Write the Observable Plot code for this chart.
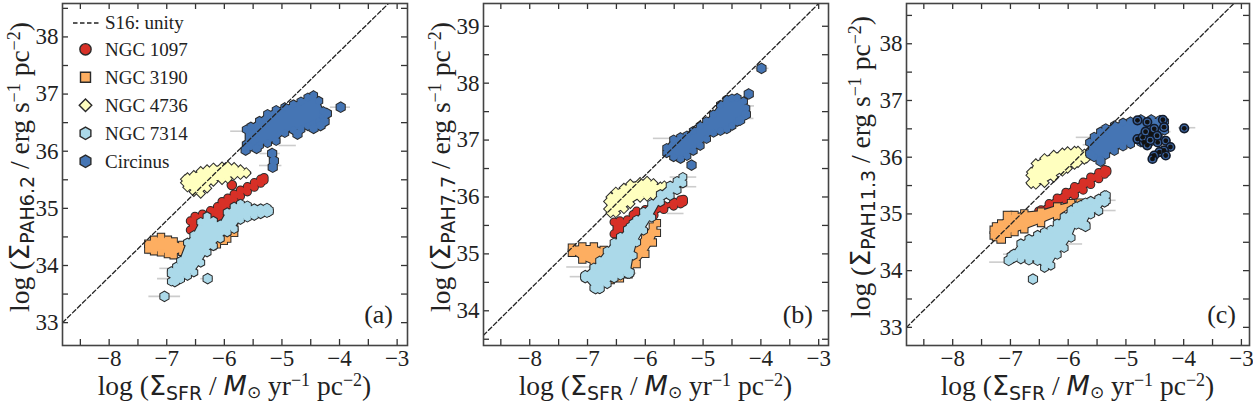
<!DOCTYPE html>
<html>
<head>
<meta charset="utf-8">
<script src="https://cdn.jsdelivr.net/npm/d3@7"></script>
<script src="https://cdn.jsdelivr.net/npm/@observablehq/plot@0.6"></script>
<style>
  body { margin: 0; background: #fff; }
  #wrap { position: relative; width: 1253px; height: 405px; overflow: hidden; }
  #wrap svg { position: absolute; top: 0; max-width: none; }
</style>
</head>
<body>
<div id="wrap"></div>
<script>
// ---------------- data ----------------
const galaxies = ["NGC 1097", "NGC 3190", "NGC 4736", "NGC 7314", "Circinus"];
const colors = ["#d73027", "#fdae61", "#ffffbf", "#abd9e9", "#4575b4"];

const xTicks = [-8, -7, -6, -5, -4, -3];
const xMinor = [-8.5, -8, -7.5, -7, -6.5, -6, -5.5, -5, -4.5, -4, -3.5, -3];
const yTicksA = [33, 34, 35, 36, 37, 38];
const yMinorA = [33, 33.5, 34, 34.5, 35, 35.5, 36, 36.5, 37, 37.5, 38, 38.5];
const yTicksB = [34, 35, 36, 37, 38, 39];
const yMinorB = [33.5, 34, 34.5, 35, 35.5, 36, 36.5, 37, 37.5, 38, 38.5, 39];
const yTicksC = [33, 34, 35, 36, 37, 38];
const yMinorC = [33, 33.5, 34, 34.5, 35, 35.5, 36, 36.5, 37, 37.5, 38, 38.5];

// S16 unity relation, endpoints read at the frame edges
const unityA = [[-8.81, 33.00], [-3.15, 38.585]];
const unityB = [[-8.80, 33.57], [-3.00, 39.40]];
const unityC = [[-8.80, 33.00], [-3.13, 38.71]];

// ---- panel (a): PAH 6.2 ----  bands: [x, low, high], points: [x, y], errors: [xlo, xhi, y]
const aErr = [[-7.34,-6.64,34.21],[-7.16,-6.58,33.77],[-7.31,-6.76,33.46],[-6.41,-6.19,33.77],[-5.89,-5.60,36.35],
  [-5.38,-5.03,35.96],[-4.16,-3.81,36.77],[-5.05,-4.75,36.10],[-5.54,-5.20,35.05],[-5.49,-5.15,34.90],
  [-7.12,-6.78,33.95],[-5.39,-5.00,35.75],[-4.55,-4.16,36.55]];
const a1097Band = [[-6.59,34.62,34.78],[-6.51,34.60,34.86],[-6.38,34.67,34.90],[-6.24,34.74,34.96],[-6.12,34.78,35.03],
  [-6.04,34.80,35.12],[-5.94,34.97,35.18],[-5.83,35.13,35.25],[-5.72,35.21,35.32],[-5.60,35.29,35.38],
  [-5.48,35.37,35.45],[-5.37,35.44,35.51],[-5.31,35.49,35.54]];
const a1097Pts = [[-5.87,35.41],[-6.53,34.62]];
const a3190Band = [[-7.32,34.28,34.38],[-7.22,34.25,34.45],[-7.10,34.23,34.50],[-6.98,34.20,34.45],[-6.88,34.18,34.42],
  [-6.73,34.24,34.36],[-6.53,34.26,34.39],[-6.33,34.29,34.43],[-6.21,34.34,34.45],[-6.13,34.37,34.46],
  [-6.01,34.43,34.56],[-5.95,34.47,34.60],[-5.83,34.57,34.67]];
const a3190Pts = [];
const a4736Band = [[-6.68,35.45,35.51],[-6.64,35.37,35.54],[-6.53,35.29,35.58],[-6.41,35.26,35.65],[-6.30,35.35,35.68],
  [-6.19,35.47,35.71],[-6.04,35.50,35.73],[-5.94,35.52,35.74],[-5.83,35.58,35.72],[-5.72,35.59,35.68],[-5.62,35.61,35.63]];
const a4736Pts = [];
const a7314Band = [[-6.92,33.72,33.90],[-6.83,33.74,33.98],[-6.76,33.76,34.08],[-6.64,33.82,34.40],[-6.53,33.88,34.53],
  [-6.41,34.05,34.76],[-6.30,34.23,34.86],[-6.19,34.34,34.78],[-6.07,34.47,34.72],[-5.95,34.58,34.93],
  [-5.83,34.64,35.03],[-5.72,34.80,35.08],[-5.60,34.84,35.05],[-5.48,34.87,35.00],[-5.37,34.90,35.00],
  [-5.26,34.92,35.01],[-5.22,34.94,34.97]];
const a7314Pts = [[-7.04,33.46],[-6.29,33.77],[-6.91,33.86],[-6.86,33.72]];
const aCirBand = [[-5.62,36.12,36.38],[-5.54,36.08,36.43],[-5.39,36.10,36.53],[-5.25,36.14,36.65],[-5.10,36.18,36.72],
  [-4.95,36.32,36.77],[-4.80,36.37,36.82],[-4.67,36.38,36.87],[-4.55,36.44,36.94],[-4.45,36.48,36.98],
  [-4.36,36.52,36.88],[-4.28,36.60,36.70]];
const aCirPts = [[-3.98,36.77],[-5.17,35.96],[-5.14,35.83],[-5.16,35.72],[-5.63,36.02],[-4.22,36.66],
  [-4.26,36.52],[-4.33,36.45],[-4.45,36.40],[-4.73,36.30],[-5.44,36.05]];

// ---- panel (b): PAH 7.7 ----
const bErr = [[-5.86,-5.51,37.03],[-5.68,-5.33,36.88],[-4.47,-4.12,37.38],[-4.12,-3.86,38.26],[-7.36,-6.89,34.77],
  [-7.30,-6.84,34.60],[-6.49,-6.15,34.66],[-5.57,-5.11,36.35],[-5.51,-5.11,36.18],[-5.62,-5.33,35.71],
  [-4.99,-4.53,37.17],[-4.41,-4.11,37.60]];
const b1097Band = [[-6.54,35.35,35.56],[-6.44,35.38,35.58],[-6.31,35.44,35.60],[-6.21,35.52,35.69],[-6.15,35.57,35.75],
  [-6.00,35.62,35.78],[-5.85,35.68,35.82],[-5.68,35.78,35.85],[-5.51,35.84,35.91],[-5.39,35.88,35.95],[-5.34,35.91,35.96]];
const b1097Pts = [];
const b3190Band = [[-7.27,35.02,35.11],[-7.09,34.90,35.13],[-6.89,34.82,35.13],[-6.72,34.67,35.07],[-6.60,34.54,34.98],
  [-6.44,34.57,34.93],[-6.29,34.64,34.98],[-6.15,34.82,35.13],[-6.00,35.00,35.33],[-5.87,35.20,35.48],[-5.80,35.37,35.54]];
const b3190Pts = [];
const b4736Band = [[-6.64,35.79,35.92],[-6.60,35.72,36.00],[-6.51,35.72,36.09],[-6.37,35.79,36.16],[-6.26,35.88,36.23],
  [-6.09,35.99,36.26],[-5.97,36.01,36.28],[-5.86,36.02,36.24],[-5.74,36.08,36.18],[-5.67,36.16,36.20]];
const b4736Pts = [];
const b7314Band = [[-7.04,34.57,34.63],[-6.89,34.40,34.76],[-6.79,34.38,34.88],[-6.66,34.47,35.05],[-6.54,34.57,35.20],
  [-6.43,34.62,35.30],[-6.31,34.65,35.43],[-6.26,34.68,35.48],[-6.21,34.97,35.54],[-6.15,35.20,35.60],
  [-6.03,35.41,35.74],[-5.89,35.64,35.88],[-5.74,35.91,36.05],[-5.57,36.02,36.20],[-5.45,36.12,36.28],[-5.35,36.24,36.35]];
const b7314Pts = [[-6.28,34.66],[-6.86,34.39],[-7.04,34.60],[-6.79,34.40]];
const bCirBand = [[-5.63,36.77,36.86],[-5.51,36.70,37.01],[-5.39,36.67,37.05],[-5.28,36.72,37.08],[-5.17,36.81,37.16],
  [-5.05,36.90,37.25],[-4.94,37.02,37.33],[-4.82,37.13,37.45],[-4.70,37.16,37.62],[-4.59,37.19,37.71],
  [-4.50,37.25,37.73],[-4.41,37.32,37.74],[-4.30,37.42,37.68],[-4.26,37.46,37.56]];
const bCirPts = [[-3.99,38.26],[-4.21,37.81],[-5.20,36.56],[-4.26,37.45],[-4.36,37.35]];

// ---- panel (c): PAH 11.3 ----
const cErr = [[-5.86,-5.46,36.35],[-5.74,-5.40,36.22],[-4.09,-3.79,36.52],[-4.51,-4.22,36.45],[-7.36,-6.91,34.15],
  [-7.12,-6.78,34.29],[-5.64,-5.17,35.24],[-5.52,-5.17,35.06],[-6.10,-5.75,34.47],[-5.94,-5.60,34.85],[-4.66,-4.27,36.55]];
const c1097Band = [[-6.51,35.01,35.05],[-6.47,34.99,35.07],[-6.33,35.07,35.18],[-6.19,35.15,35.28],[-6.04,35.24,35.38],
  [-5.89,35.33,35.48],[-5.74,35.42,35.56],[-5.61,35.52,35.65],[-5.47,35.62,35.73],[-5.37,35.70,35.78],[-5.33,35.74,35.77]];
const c1097Pts = [];
const c3190Band = [[-7.29,34.62,34.72],[-7.25,34.59,34.78],[-7.16,34.58,34.83],[-7.05,34.65,34.95],[-6.93,34.68,34.98],
  [-6.76,34.73,35.01],[-6.47,34.84,35.04],[-6.19,34.96,35.13],[-5.95,35.11,35.19],[-5.80,35.16,35.20]];
const c3190Pts = [[-7.22,34.76],[-7.16,34.56],[-7.05,34.97]];
const c4736Band = [[-6.65,35.55,35.68],[-6.64,35.53,35.74],[-6.56,35.52,35.89],[-6.41,35.55,35.98],[-6.25,35.64,36.04],
  [-6.10,35.75,36.08],[-6.01,35.80,36.10],[-5.89,35.87,36.11],[-5.83,35.90,36.11],[-5.72,35.96,36.06],[-5.68,35.98,36.03]];
const c4736Pts = [];
const c7314Band = [[-6.99,34.20,34.26],[-6.94,34.22,34.30],[-6.82,34.20,34.48],[-6.68,34.18,34.56],[-6.53,34.17,34.63],
  [-6.41,34.05,34.68],[-6.30,34.09,34.72],[-6.19,34.28,34.83],[-6.07,34.40,34.95],[-5.95,34.58,35.07],
  [-5.86,34.81,35.13],[-5.78,34.81,35.16],[-5.70,34.81,35.20],[-5.61,34.99,35.23],[-5.47,35.05,35.27],
  [-5.37,35.20,35.33],[-5.34,35.23,35.33]];
const c7314Pts = [[-6.61,33.85],[-5.70,34.78],[-7.03,34.18]];
const cCirBand = [[-5.63,36.07,36.26],[-5.55,36.00,36.36],[-5.44,35.96,36.45],[-5.35,36.04,36.51],[-5.20,36.11,36.56],
  [-5.05,36.19,36.61],[-4.92,36.23,36.63],[-4.74,36.26,36.67],[-4.56,36.28,36.67],[-4.41,36.32,36.66],[-4.33,36.47,36.63]];
const cCirPts = [[-5.61,36.05],[-5.44,35.93]];
const cCirDot = [[-4.80,36.65],[-4.63,36.62],[-4.36,36.66],[-4.34,36.53],[-4.57,36.41],[-4.80,36.32],[-4.69,36.26],
  [-4.45,36.26],[-4.31,36.29],[-4.23,36.18],[-4.34,36.12],[-4.42,36.09],[-4.51,36.03],[-4.54,35.97],[-4.31,36.03],
  [-3.99,36.51],[-4.71,36.35],[-4.63,36.21],[-4.51,36.50],[-4.66,36.45],[-4.46,36.38],[-4.58,36.30]];

// ---------------- helpers ----------------
const SERIF = "Liberation Serif, Times New Roman, serif";
const SANS = "DejaVu Sans, sans-serif";
const OUT = "#2a2a2a";
const hexagon = {
  draw(ctx, size) {
    const r = Math.sqrt(2 * size / (3 * Math.sqrt(3)));
    for (let i = 0; i < 6; i++) {
      const a = -Math.PI / 2 + i * Math.PI / 3;
      const px = r * Math.cos(a), py = r * Math.sin(a);
      if (i === 0) ctx.moveTo(px, py); else ctx.lineTo(px, py);
    }
    ctx.closePath();
  }
};
const symbols = ["circle", "square", "diamond2", hexagon, hexagon];
const d3Symbols = [d3.symbolCircle, d3.symbolSquare, d3.symbolDiamond2, hexagon, hexagon];

function cloud(band, pts, i) {
  const rows = band.map(([x, lo, hi]) => ({x, lo, hi}));
  // markers sitting on the traced edges of the cloud + isolated points
  const E = band.flatMap(([x, lo, hi]) => [{x, y: lo}, {x, y: hi}]);
  const P = pts.map(([x, y]) => ({x, y}));
  const color = colors[i], sym = symbols[i];
  return [
    Plot.areaY(rows, {x: "x", y1: "lo", y2: "hi", fill: color, stroke: OUT, strokeWidth: 2.2, strokeLinejoin: "round"}),
    Plot.dot(E, {x: "x", y: "y", r: 3.6, symbol: sym, fill: color, stroke: OUT, strokeWidth: 2.0}),
    Plot.dot(P, {x: "x", y: "y", r: 4.3, symbol: sym, fill: color, stroke: OUT, strokeWidth: 2.0}),
    Plot.areaY(rows, {x: "x", y1: "lo", y2: "hi", fill: color}),
    Plot.dot(E, {x: "x", y: "y", r: 3.6, symbol: sym, fill: color}),
    Plot.dot(P, {x: "x", y: "y", r: 4.3, symbol: sym, fill: color})
  ];
}

function mathLabel(t, parts) {
  // parts: [text, opts]
  parts.forEach(([txt, o]) => {
    const sp = t.append("tspan").text(txt);
    if (o.fam) sp.attr("font-family", o.fam);
    if (o.size) sp.attr("font-size", o.size);
    if (o.italic) sp.attr("font-style", "italic");
    if (o.dy) sp.attr("dy", o.dy);
  });
}

function panel(cfg) {
  const fw = cfg.width - cfg.mL - cfg.mR;
  const fh = 405 - 3 - 60;
  const marks = [
    Plot.ruleY(cfg.err, {y: d => d[2], x1: d => d[0], x2: d => d[1], stroke: "#cccccc", strokeWidth: 1.6}),
    ...cfg.clouds.flatMap(([band, pts], i) => cloud(band, pts, i)),
  ];
  if (cfg.dots) {
    marks.push(Plot.dot(cfg.dots, {x: d => d[0], y: d => d[1], r: 4.3, fill: "#3d66a3", stroke: "#111a2a", strokeWidth: 1.6}));
    marks.push(Plot.dot(cfg.dots, {x: d => d[0], y: d => d[1], r: 2.4, fill: "#111"}));
  }
  marks.push(
    Plot.line(cfg.unity, {x: d => d[0], y: d => d[1], stroke: "#222", strokeWidth: 1.3, strokeDasharray: "4.5,2.5", clip: true}),
    Plot.ruleX(xMinor, {x: d => d, insetTop: fh - 6, stroke: "#333", strokeWidth: 1.3}),
    Plot.ruleX(xMinor, {x: d => d, insetBottom: fh - 6, stroke: "#333", strokeWidth: 1.3}),
    Plot.ruleY(cfg.yMinor, {y: d => d, insetRight: fw - 6, stroke: "#333", strokeWidth: 1.3}),
    Plot.ruleY(cfg.yMinor, {y: d => d, insetLeft: fw - 6, stroke: "#333", strokeWidth: 1.3}),
    Plot.frame({stroke: "#444", strokeWidth: 1.6}),
    Plot.axisX(xTicks, {tickSize: 0, tickPadding: 4, fontSize: 23, fontFamily: SERIF, label: null,
      tickFormat: d => (d < 0 ? "\u2212" + Math.abs(d) : String(d))}),
    Plot.axisY(cfg.yTicks, {tickSize: 0, tickPadding: 4, fontSize: 23, fontFamily: SERIF, label: null,
      tickFormat: d => String(d)})
  );
  const svg = Plot.plot({
    width: cfg.width, height: 405,
    marginLeft: cfg.mL, marginRight: cfg.mR, marginTop: 3, marginBottom: 60,
    x: {domain: cfg.xDomain}, y: {domain: cfg.yDomain},
    style: {fontFamily: SERIF, fontSize: "23px", color: "#222", background: "transparent", overflow: "visible"},
    marks
  });
  svg.style.left = cfg.left + "px";
  const s = d3.select(svg);

  // x label
  const cx = cfg.mL + fw / 2;
  const tx = s.append("text").attr("x", cx).attr("y", 395).attr("text-anchor", "middle")
    .attr("fill", "#222").attr("font-family", SERIF).attr("font-size", 27.5);
  mathLabel(tx, [
    ["log (", {}], ["\u03A3", {fam: SANS, size: 27}], ["SFR", {fam: SANS, size: 19, dy: 5}],
    [" / ", {dy: -5}], ["M", {fam: SANS, size: 27, italic: true}], ["\u2299", {fam: SANS, size: 17, dy: 3}],
    [" yr", {dy: -3}], ["\u22121", {size: 18, dy: -9}], [" pc", {dy: 9}], ["\u22122", {size: 18, dy: -9}], [")", {dy: 9}]
  ]);

  // y label
  const ty = s.append("text").attr("transform", `translate(${cfg.yLabX},167) rotate(-90)`).attr("text-anchor", "middle")
    .attr("fill", "#222").attr("font-family", SERIF).attr("font-size", 27.5);
  mathLabel(ty, [
    ["log (", {}], ["\u03A3", {fam: SANS, size: 27}], [cfg.sub, {fam: SANS, size: 19, dy: 5}],
    [" / erg s", {dy: -5}], ["\u22121", {size: 18, dy: -9}], [" pc", {dy: 9}], ["\u22122", {size: 18, dy: -9}], [")", {dy: 9}]
  ]);

  // panel tag
  s.append("text").attr("x", cfg.tagX).attr("y", 323).attr("text-anchor", "end").attr("fill", "#222")
    .attr("font-family", SERIF).attr("font-size", 26).text(cfg.tag);

  document.getElementById("wrap").appendChild(svg);
  return svg;
}

const svgA = panel({
  left: 0, width: 418, mL: 62, mR: 11, xDomain: [-8.81, -2.82], yDomain: [32.60, 38.585],
  yTicks: yTicksA, yMinor: yMinorA, unity: unityA, err: aErr, sub: "PAH6.2", yLabX: 29, tag: "(a)", tagX: 393,
  clouds: [[a1097Band, a1097Pts], [a3190Band, a3190Pts], [a4736Band, a4736Pts], [a7314Band, a7314Pts], [aCirBand, aCirPts]]
});
panel({
  left: 418, width: 418, mL: 65, mR: 8, xDomain: [-8.80, -2.83], yDomain: [33.39, 39.40],
  yTicks: yTicksB, yMinor: yMinorB, unity: unityB, err: bErr, sub: "PAH7.7", yLabX: 32, tag: "(b)", tagX: 395,
  clouds: [[b1097Band, b1097Pts], [b3190Band, b3190Pts], [b4736Band, b4736Pts], [b7314Band, b7314Pts], [bCirBand, bCirPts]]
});
panel({
  left: 836, width: 417, mL: 70, mR: 4, xDomain: [-8.80, -2.86], yDomain: [32.68, 38.71],
  yTicks: yTicksC, yMinor: yMinorC, unity: unityC, err: cErr, sub: "PAH11.3", yLabX: 34, tag: "(c)", tagX: 400,
  clouds: [[c1097Band, c1097Pts], [c3190Band, c3190Pts], [c4736Band, c4736Pts], [c7314Band, c7314Pts], [cCirBand, cCirPts]],
  dots: cCirDot
});

// legend (panel a)
const lg = d3.select(svgA).append("g").attr("fill", "#222").attr("text-anchor", "start")
  .attr("font-family", SERIF).attr("font-size", 19);
lg.append("line").attr("x1", 73).attr("x2", 100).attr("y1", 23).attr("y2", 23)
  .attr("stroke", "#222").attr("stroke-width", 1.3).attr("stroke-dasharray", "4.5,2.5");
lg.append("text").attr("x", 105).attr("y", 29).attr("text-anchor", "start").text("S16: unity");
galaxies.forEach((g, i) => {
  const cy = 49.3 + i * 28;
  lg.append("path").attr("d", d3.symbol(d3Symbols[i], 100)())
    .attr("transform", `translate(85.5,${cy})`).attr("fill", colors[i]).attr("stroke", OUT).attr("stroke-width", 1.4);
  lg.append("text").attr("x", 105).attr("y", cy + 7).attr("text-anchor", "start").text(g);
});
</script>
</body>
</html>
